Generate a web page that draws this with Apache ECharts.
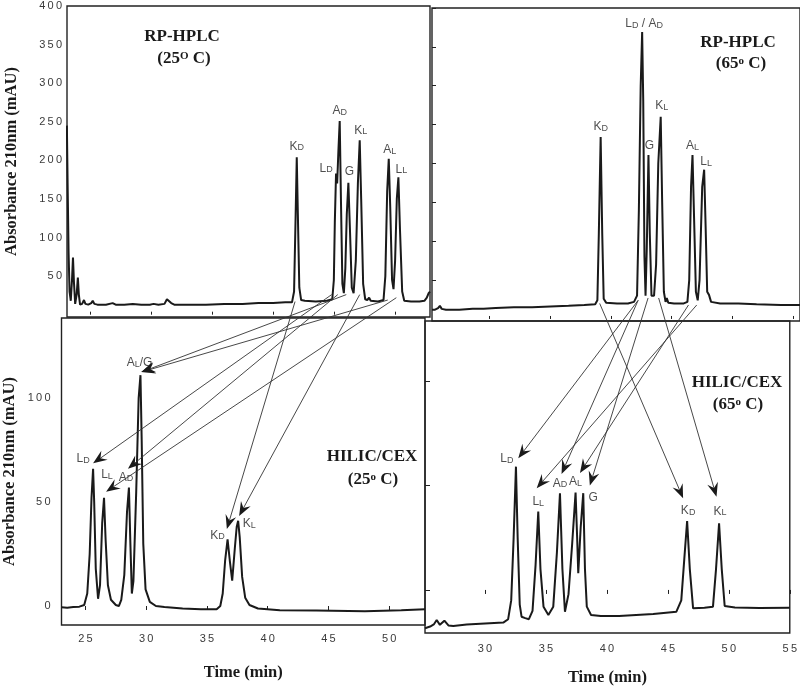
<!DOCTYPE html>
<html><head><meta charset="utf-8">
<script src="https://cdn.jsdelivr.net/npm/echarts@6/dist/echarts.min.js"></script>
<style>html,body{margin:0;padding:0;background:#fff}#main{width:800px;height:687px}</style>
</head><body><div id="main"></div>
<script>
// ---------------- DATA ----------------
// Chromatogram traces: [time (min), absorbance (mAU)]
const rpLeftTrace = [[23.1,245],[23.16,170],[23.24,80],[23.32,30],[23.42,18],[23.52,45],[23.6,74],[23.68,42],[23.78,14],[23.9,26],[24.0,48],[24.08,26],[24.18,13],[24.35,14],[24.5,19],[24.62,14],[24.85,13],[25.1,15],[25.22,18],[25.35,14],[25.6,13],[26.3,13],[26.85,15],[27.1,13],[27.8,13],[28.5,14],[29.2,13],[29.9,13],[30.2,14],[30.6,13],[31.1,14],[31.3,20],[31.45,22],[31.65,15],[31.9,13],[33,13],[34.5,13],[36,14],[37.5,14],[38.8,15],[40,15],[41,16],[41.55,16],[41.72,30],[41.85,130],[41.94,204],[42.03,130],[42.15,35],[42.3,19],[42.6,18],[43.5,17],[44.4,18],[44.85,20],[44.98,45],[45.06,120],[45.16,183],[45.25,170],[45.36,215],[45.46,251],[45.56,150],[45.68,40],[45.8,28],[45.92,60],[46.04,130],[46.17,171],[46.3,110],[46.45,35],[46.6,28],[46.78,70],[46.95,170],[47.1,226],[47.22,150],[47.38,40],[47.55,20],[47.72,19],[47.87,22],[48.0,18],[48.6,17],[49.05,19],[49.2,50],[49.35,160],[49.48,202],[49.6,140],[49.75,45],[49.87,33],[50.0,70],[50.14,150],[50.27,178],[50.4,110],[50.58,30],[50.75,18],[51.3,17],[52.0,17],[52.4,18],[52.6,22],[52.75,28],[52.86,30]];
const rpRightTrace = [[25.25,12],[25.5,12],[25.75,14],[25.9,17],[26.05,13],[26.4,12],[27.5,12],[28.6,13],[29.5,13],[30.5,14],[32,15],[33.5,15],[35,16],[36.5,17],[37.8,18],[38.7,19],[38.88,24],[39.0,110],[39.15,234],[39.28,110],[39.4,26],[39.6,21],[40.5,20],[41.4,20],[41.9,22],[42.15,30],[42.3,140],[42.45,300],[42.57,369],[42.66,280],[42.76,80],[42.85,30],[42.95,90],[43.09,211],[43.2,110],[43.34,30],[43.55,30],[43.72,70],[43.9,200],[44.1,260],[44.22,150],[44.36,35],[44.5,22],[44.6,27],[44.72,21],[45.2,20],[46.0,20],[46.3,22],[46.45,50],[46.6,170],[46.72,211],[46.85,130],[47.0,35],[47.15,24],[47.3,50],[47.52,170],[47.68,192],[47.8,120],[47.93,35],[48.08,31],[48.25,22],[49,20],[50.5,20],[52,19],[54,18],[55.6,18]];
const hilicLeftTrace = [[23.03,-0.6],[23.5,-0.8],[24.0,-0.5],[24.5,-0.3],[24.9,0.5],[25.15,6],[25.35,25],[25.5,52],[25.63,66],[25.72,50],[25.85,18],[26.04,3.5],[26.2,10],[26.38,40],[26.53,52],[26.66,32],[26.85,10],[27.1,3],[27.5,0.5],[27.75,0],[27.95,3],[28.2,15],[28.42,45],[28.58,57],[28.7,30],[28.82,6],[28.95,12],[29.18,55],[29.38,100],[29.53,111],[29.63,80],[29.76,30],[29.95,8],[30.3,2],[30.8,0],[31.5,-0.5],[33,-1.2],[34.5,-1.6],[35.8,-1.6],[36.1,0],[36.3,6],[36.5,22],[36.7,32],[36.88,22],[37.08,12.2],[37.3,28],[37.45,38],[37.57,41],[37.7,33],[37.9,14],[38.15,4],[38.5,0.5],[39.2,-1.2],[41,-2],[44,-2.2],[48,-2.5],[51,-2],[52.95,-1.5]];
const hilicRightTrace = [[25.08,-18.3],[25.5,-17.5],[25.8,-16.5],[26.04,-14.4],[26.3,-16.7],[26.67,-14.7],[27.0,-17],[27.4,-17.2],[28.5,-16.5],[30,-16],[31.5,-15.6],[31.9,-14],[32.15,-5],[32.35,25],[32.54,59],[32.68,25],[32.85,-7],[33.0,-12.8],[33.3,-13.5],[33.6,-14],[33.9,-10],[34.15,12],[34.37,37.5],[34.55,10],[34.8,-8],[35.2,-12],[35.6,-8],[35.9,18],[36.15,46.3],[36.35,10],[36.56,-10.4],[36.85,-2],[37.15,22],[37.43,46.6],[37.56,25],[37.65,8],[37.85,30],[38.06,46.3],[38.2,10],[38.35,-8],[38.7,-12],[39.5,-12.5],[41,-12.5],[43.8,-11.5],[45.7,-10.4],[46.1,-5],[46.35,15],[46.58,33],[46.8,10],[47.07,-8.8],[48,-8.5],[48.7,-8],[48.95,10],[49.2,31.9],[49.42,10],[49.66,-7.7],[50.5,-8.4],[52.5,-8.6],[55.0,-8.5]];

// Peak identities (underscore = small subscript letter), apex times and heights
const rpLeftPeakNames = ['K_D','L_D','A_D','G','K_L','A_L','L_L'];
const rpLeftPeakTimes = [41.94,45.16,45.46,46.17,47.1,49.48,50.27];
const rpLeftPeakHeights = [204,183,251,171,226,202,178];
const rpRightPeakNames = ['K_D','L_D / A_D','G','K_L','A_L','L_L'];
const rpRightPeakTimes = [39.15,42.57,43.09,44.1,46.72,47.68];
const rpRightPeakHeights = [234,369,211,260,211,192];
const hilicLeftPeakNames = ['L_D','L_L','A_D','A_L/G','K_D','K_L'];
const hilicLeftPeakTimes = [25.63,26.53,28.58,29.53,36.7,37.57];
const hilicLeftPeakHeights = [66,52,57,111,32,41];
const hilicRightPeakNames = ['L_D','L_L','A_D','A_L','G','K_D','K_L'];
const hilicRightPeakTimes = [32.54,34.37,36.15,37.43,38.06,46.58,49.2];
const hilicRightPeakHeights = [59,37.5,46.3,46.6,46.3,33,31.9];

// Correlation arrows: from RP peak (time, mAU) to HILIC/CEX peak (time, mAU)  (K_D, L_D, A_D, G, K_L, A_L, L_L)
const arrowLeftFrom = [[41.8,17],[44.8,26],[45.3,26],[46.0,26],[47.1,26],[49.4,19],[50.1,22]];
const arrowLeftTo = [[36.64,37],[25.63,68.6],[28.5,66],[29.6,112.5],[37.65,43.3],[29.6,112.5],[26.7,55]];
const arrowRightFrom = [[39.07,20],[42.24,24],[42.24,24],[43.06,27],[43.93,27],[46.39,18],[47.07,18]];
const arrowRightTo = [[46.25,43.9],[32.73,63],[36.28,55.5],[38.6,50],[48.99,44.6],[37.79,56],[34.24,48.7]];

// Tick values
const xTicksLeft = [25,30,35,40,45,50];
const xTicksRight = [30,35,40,45,50,55];
const yTicksRP = [50,100,150,200,250,300,350,400];
const yTicksHilic = [0,50,100];

// Texts
const yTitle = 'Absorbance 210nm (mAU)';
const xTitle = 'Time (min)';

// ---------------- LAYOUT / STYLE ----------------
const SERIF = '"Liberation Serif","Times New Roman",serif';
const SANS = '"Liberation Sans",Arial,sans-serif';
const INK = '#1a1a1a';
const spaced = v => String(v).split('').join('\u2009');

const labelOffsets = {
  rpLeft: [[0,-11],[-10,-5],[0,-10],[1,-11],[1,-10],[1,-9],[3,-8]],
  rpRight: [[0,-10],[2,-8],[1,-9],[1,-11],[0,-9],[2,-8]],
  hilicLeft: [[-10,-10],[3,-23],[-3,-10],[-1,-12],[-10,-4],[11,3]],
  hilicRight: [[-9,-8],[0,-10],[0,-10],[0,-11],[10,4],[1,-10],[1,-12]]
};

function richName(n){
  return n.split(/_(.)/).map((p,i)=> p==='' ? '' : (i%2 ? '{s|'+p+'}' : '{m|'+p+'}')).join('');
}
const peakRich = {
  m:{fontFamily:SANS, fontSize:12, color:'#222'},
  s:{fontFamily:SANS, fontSize:9, color:'#222', verticalAlign:'bottom'}
};
function labelSeries(idx, names, times, heights, offs){
  return {
    type:'scatter', xAxisIndex:idx, yAxisIndex:idx, symbolSize:1, silent:true,
    itemStyle:{color:'rgba(0,0,0,0)'}, z:20,
    label:{show:true, position:'inside', formatter:p=>richName(p.name), rich:peakRich},
    data: names.map((n,i)=>({name:n, value:[times[i],heights[i]], label:{offset:offs[i]}}))
  };
}
function traceSeries(idx, data){
  return {type:'line', xAxisIndex:idx, yAxisIndex:idx, data, showSymbol:false, symbol:'none',
    lineStyle:{color:INK, width:2}, clip:true, silent:true, z:10};
}
const tickStyle = {color:'#222', width:1};
const labelStyle = {fontFamily:SANS, fontSize:11, color:'#3a3a3a', formatter:spaced};
const nameStyle = {fontFamily:SERIF, fontSize:16.5, fontWeight:'bold', color:INK};
const gridBase = {show:true, borderColor:'#222', borderWidth:1.4, backgroundColor:'transparent'};

const option = {
  backgroundColor:'#fff',
  animation:false,
  grid:[
    Object.assign({left:67, top:6, width:363, height:311}, gridBase),
    Object.assign({left:432, top:8, width:370, height:313}, gridBase),
    Object.assign({left:60, top:318, width:365, height:307}, gridBase),
    Object.assign({left:425, top:321, width:365, height:312}, gridBase)
  ],
  xAxis:[
    {gridIndex:0, type:'value', min:23.11, max:52.86, axisLine:{show:false}, splitLine:{show:false},
     axisTick:{show:true, inside:true, length:3, customValues:xTicksLeft, lineStyle:tickStyle}, axisLabel:{show:false}},
    {gridIndex:1, type:'value', min:25.25, max:55.58, axisLine:{show:false}, splitLine:{show:false},
     axisTick:{show:true, inside:true, length:3, customValues:xTicksRight, lineStyle:tickStyle}, axisLabel:{show:false}},
    {gridIndex:2, type:'value', min:23.03, max:52.95, axisLine:{show:false}, splitLine:{show:false},
     axisTick:{show:true, inside:false, length:4, customValues:xTicksLeft, lineStyle:tickStyle},
     axisLabel:Object.assign({show:true, margin:8, customValues:xTicksLeft}, labelStyle),
     name:xTitle, nameLocation:'middle', nameGap:39, nameTextStyle:nameStyle},
    {gridIndex:3, type:'value', min:25.08, max:55.0, axisLine:{show:false}, splitLine:{show:false},
     axisTick:{show:true, inside:false, length:4, customValues:xTicksRight, lineStyle:tickStyle},
     axisLabel:Object.assign({show:true, margin:10, customValues:xTicksRight}, labelStyle),
     name:xTitle, nameLocation:'middle', nameGap:36, nameTextStyle:nameStyle}
  ],
  yAxis:[
    {gridIndex:0, type:'value', min:-3, max:400, axisLine:{show:false}, splitLine:{show:false},
     axisTick:{show:false}, axisLabel:Object.assign({show:true, margin:5, customValues:yTicksRP}, labelStyle),
     name:yTitle, nameLocation:'middle', nameRotate:90, nameGap:46.5, nameTextStyle:nameStyle},
    {gridIndex:1, type:'value', min:-2.6, max:400, axisLine:{show:false}, splitLine:{show:false},
     axisTick:{show:true, inside:true, length:4, customValues:yTicksRP, lineStyle:tickStyle}, axisLabel:{show:false}},
    {gridIndex:2, type:'value', min:-9.13, max:138.5, axisLine:{show:false}, splitLine:{show:false},
     axisTick:{show:false}, axisLabel:Object.assign({show:true, margin:11, customValues:yTicksHilic}, labelStyle),
     name:yTitle, nameLocation:'middle', nameRotate:90, nameGap:43.5, nameTextStyle:nameStyle},
    {gridIndex:3, type:'value', min:-20.6, max:128.7, axisLine:{show:false}, splitLine:{show:false},
     axisTick:{show:true, inside:true, length:5, customValues:yTicksHilic, lineStyle:tickStyle}, axisLabel:{show:false}}
  ],
  series:[
    traceSeries(0, rpLeftTrace),
    traceSeries(1, rpRightTrace),
    traceSeries(2, hilicLeftTrace),
    traceSeries(3, hilicRightTrace),
    labelSeries(0, rpLeftPeakNames, rpLeftPeakTimes, rpLeftPeakHeights, labelOffsets.rpLeft),
    labelSeries(1, rpRightPeakNames, rpRightPeakTimes, rpRightPeakHeights, labelOffsets.rpRight),
    labelSeries(2, hilicLeftPeakNames, hilicLeftPeakTimes, hilicLeftPeakHeights, labelOffsets.hilicLeft),
    labelSeries(3, hilicRightPeakNames, hilicRightPeakTimes, hilicRightPeakHeights, labelOffsets.hilicRight)
  ]
};

const chart = echarts.init(document.getElementById('main'), null, {renderer:'canvas'});
chart.setOption(option);

// Panel titles
const titleRich = {
  b:{fontFamily:SERIF, fontSize:17, fontWeight:'bold', fill:INK},
  sup:{fontFamily:SERIF, fontSize:11, fontWeight:'bold', fill:INK, verticalAlign:'top'}
};
function titleText(x, y, text){
  return {type:'text', x, y, silent:true, z:30,
    style:{text, rich:titleRich, fill:INK, font:'bold 17px '+SERIF,
      align:'center', verticalAlign:'middle', textAlign:'center', textVerticalAlign:'middle'}};
}
const titles = [
  titleText(182, 37, '{b|RP-HPLC}'), titleText(184, 59, '{b|(25}{sup|O}{b| C)}'),
  titleText(738, 43, '{b|RP-HPLC}'), titleText(741, 64, '{b|(65}{sup|o}{b| C)}'),
  titleText(372, 457, '{b|HILIC/CEX}'), titleText(373, 480, '{b|(25}{sup|o}{b| C)}'),
  titleText(737, 383, '{b|HILIC/CEX}'), titleText(738, 405, '{b|(65}{sup|o}{b| C)}')
];

function arrowEls(fromArr, toArr, g0, g1){
  const els = [];
  for (let i = 0; i < fromArr.length; i++){
    const a = chart.convertToPixel({gridIndex:g0}, fromArr[i]);
    const b = chart.convertToPixel({gridIndex:g1}, toArr[i]);
    const dx = b[0]-a[0], dy = b[1]-a[1], L = Math.hypot(dx,dy);
    const ux = dx/L, uy = dy/L, px = -uy, py = ux;
    const head = 14, half = 5.5, notch = 9;
    const base = [b[0]-ux*head, b[1]-uy*head];
    const n = [b[0]-ux*notch, b[1]-uy*notch];
    els.push({type:'line', silent:true, z:40, shape:{x1:a[0], y1:a[1], x2:n[0], y2:n[1]},
      style:{stroke:'#333', lineWidth:0.9}});
    els.push({type:'polygon', silent:true, z:41,
      shape:{points:[b, [base[0]+px*half, base[1]+py*half], n, [base[0]-px*half, base[1]-py*half]]},
      style:{fill:'#1a1a1a'}});
  }
  return els;
}

chart.setOption({graphic: titles
  .concat(arrowEls(arrowLeftFrom, arrowLeftTo, 0, 2))
  .concat(arrowEls(arrowRightFrom, arrowRightTo, 1, 3))});
</script>
</body></html>
